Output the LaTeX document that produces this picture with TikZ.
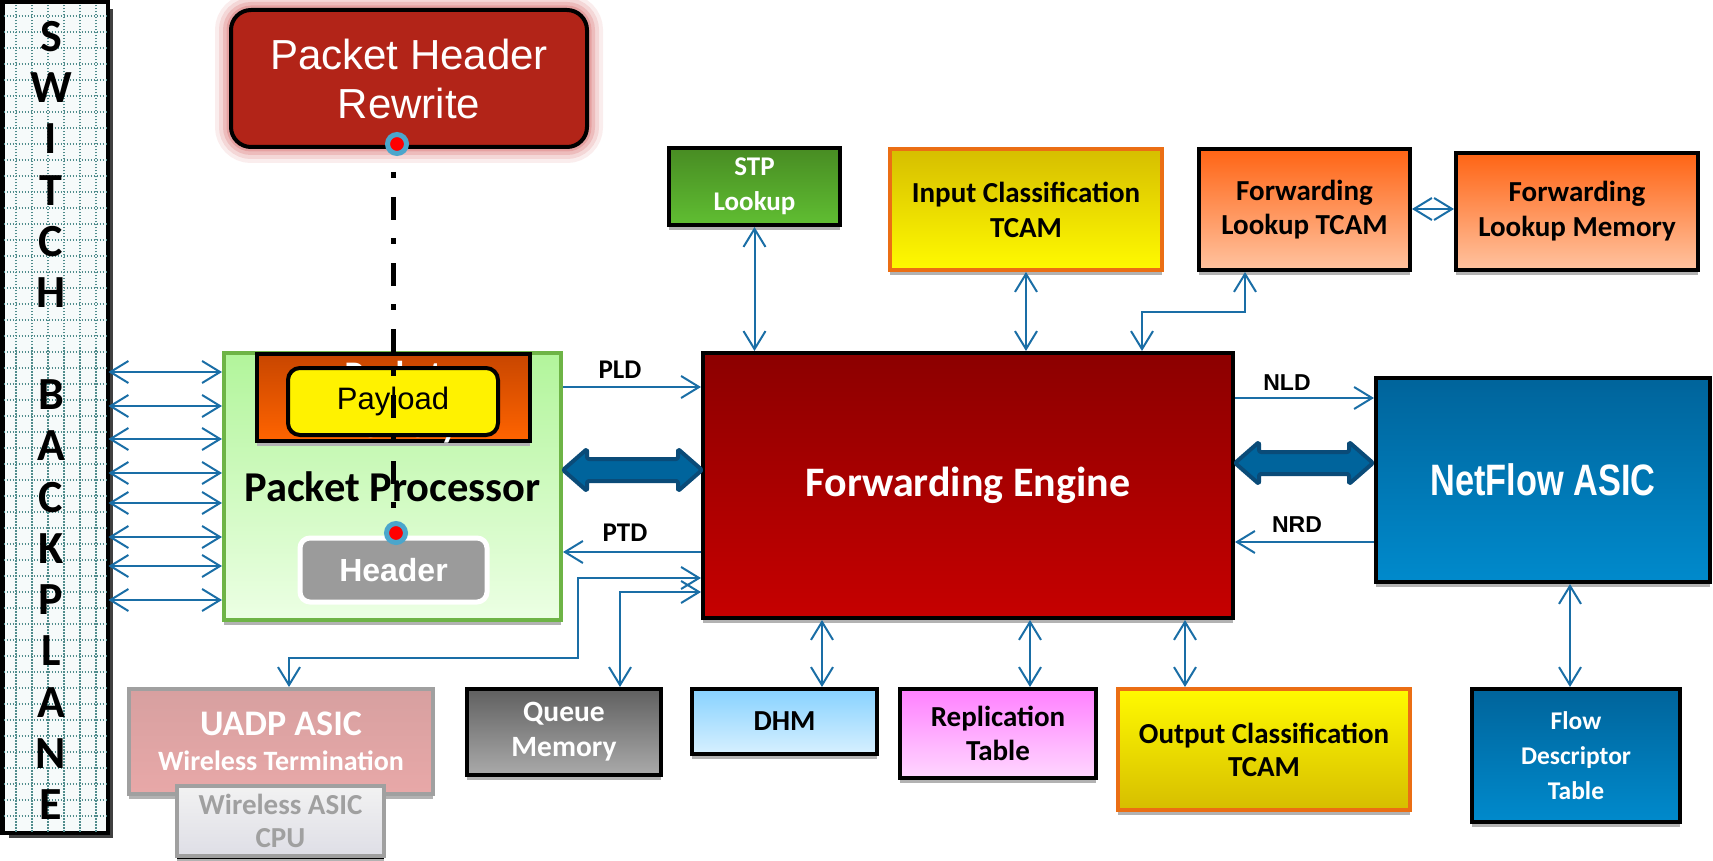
\documentclass[tikz,border=0pt]{standalone}
\usepackage{fontspec}
\setmainfont{Carlito}
\newfontfamily\arialfont{Liberation Sans}
\newfontfamily\narrowfont[FakeStretch=0.78]{Liberation Sans}
\usetikzlibrary{arrows.meta,shadows,calc}

\newcommand\setfs[2]{\fontsize{#1}{#2}\selectfont}

\definecolor{lnk}{RGB}{26,110,166}
\definecolor{feT}{RGB}{140,0,0}
\definecolor{feB}{RGB}{198,0,0}
\definecolor{nfT}{RGB}{0,100,155}
\definecolor{nfB}{RGB}{0,138,204}
\definecolor{stpT}{RGB}{72,140,35}
\definecolor{stpB}{RGB}{96,190,50}
\definecolor{ylD}{RGB}{214,190,0}
\definecolor{ylL}{RGB}{255,250,0}
\definecolor{orBd}{RGB}{235,110,20}
\definecolor{flT}{RGB}{255,100,20}
\definecolor{flB}{RGB}{255,195,160}
\definecolor{qmT}{RGB}{96,96,96}
\definecolor{qmB}{RGB}{170,170,170}
\definecolor{dhT}{RGB}{135,210,255}
\definecolor{dhB}{RGB}{215,240,255}
\definecolor{rtT}{RGB}{255,128,255}
\definecolor{rtB}{RGB}{255,215,255}
\definecolor{uaT}{RGB}{215,160,160}
\definecolor{uaB}{RGB}{232,168,168}
\definecolor{uaBd}{RGB}{160,160,160}
\definecolor{cpT}{RGB}{242,242,242}
\definecolor{cpB}{RGB}{222,222,230}
\definecolor{cpTx}{RGB}{160,160,160}
\definecolor{ppT}{RGB}{178,245,155}
\definecolor{ppB}{RGB}{236,255,228}
\definecolor{ppBd}{RGB}{110,180,70}
\definecolor{pmT}{RGB}{200,70,0}
\definecolor{pmB}{RGB}{255,100,0}
\definecolor{phrC}{RGB}{178,36,24}
\definecolor{glowC}{RGB}{215,110,110}
\definecolor{bpBg}{RGB}{246,250,250}
\definecolor{bpGrid}{RGB}{80,140,140}
\definecolor{ringC}{RGB}{75,166,204}
\definecolor{fatC}{RGB}{0,100,156}
\definecolor{fatBd}{RGB}{10,75,120}
\definecolor{hdrC}{RGB}{155,155,155}

\tikzset{
  vtip/.tip={Straight Barb[length=18pt,width=22pt]},
  link/.style={draw=lnk, line width=2pt},
  box/.style={rectangle, draw=black, line width=4pt, inner sep=0pt, align=center,
    drop shadow={shadow xshift=0pt, shadow yshift=-5pt, fill=black!30, opacity=1}},
  plainbox/.style={rectangle, draw=black, line width=4pt, inner sep=0pt, align=center},
  lbl/.style={font=\setfs{27}{30}\bfseries, inner sep=0pt},
  nlbl/.style={font=\arialfont\setfs{23}{26}\bfseries, inner sep=0pt},
  bpletter/.style={font=\setfs{46}{48}\bfseries, inner sep=0pt},
  dotnode/.style={circle, fill=red, draw=ringC, line width=5pt, minimum size=19pt, inner sep=0pt},
  fatarrow/.style={fill=fatC, draw=fatBd, line width=4pt, line join=round, rounded corners=2pt},
  dashline/.style={line width=5pt, black, dash pattern=on 6pt off 19pt on 23pt off 18pt, dash phase=50pt}
}

\begin{document}
\begin{tikzpicture}[x=1pt,y=-1pt]
\useasboundingbox (0,0) rectangle (1713,861);

% ---- switch backplane ----
\node[draw=black, line width=3pt, fill=bpBg, minimum width=104pt, minimum height=829pt, inner sep=0pt,
  drop shadow={shadow xshift=6pt, shadow yshift=-6pt, fill=black!75, opacity=1}] (bp) at (55,417.5) {};
\draw[bpGrid, line width=1.3pt, dash pattern=on 1.5pt off 1.5pt, step=16pt]
  ($(bp.south west)+(2,-2)$) grid ($(bp.north east)+(-2,2)$);
\draw[line width=3pt] (bp.south west) rectangle (bp.north east);
\foreach \c/\y in {S/37, W/88, I/139, T/191, C/242, H/293, B/395, A/446, C/498, K/549, P/600, L/651, A/703, N/754, E/805}
  \node[bpletter] (bp-\y) at (51,\y) {\c};

% ---- packet header rewrite ----
\foreach \w/\o in {32/0.12, 24/0.18, 16/0.25, 9/0.35}
  \draw[glowC, line width=\w pt, opacity=\o, rounded corners=20pt] (231,10) rectangle (587,147);
\node[plainbox, rounded corners=20pt, fill=phrC, text=white, minimum width=356pt, minimum height=137pt,
  font=\arialfont\setfs{42}{49}] (phr) at (409,78.5) {Packet Header\\Rewrite};

% ---- packet processor ----
\node[box, draw=ppBd, top color=ppT, bottom color=ppB, minimum width=337pt, minimum height=267pt,
  font=\setfs{42.5}{48}\bfseries] (pp) at (392.5,486.5) {Packet Processor};
\node[box, top color=pmT, bottom color=pmB, text=white, minimum width=273pt, minimum height=87pt,
  text depth=0pt] (pm) at (393.5,397.5) {};
\node[text=white, inner sep=0pt, anchor=base, font=\setfs{36}{40}\bfseries] (pmtop) at (393.5,386) {Packet};
\node[text=white, inner sep=0pt, anchor=base, font=\setfs{36}{40}\bfseries] (pmbot) at (393.5,437) {Memory};
\node[plainbox, rounded corners=12pt, fill=yellow, minimum width=210pt, minimum height=67pt,
  font=\arialfont\setfs{31}{36}] (pl) at (393,401.5) {Payload};
\node[rectangle, rounded corners=10pt, fill=hdrC, draw=white, line width=5pt, text=white, inner sep=0pt,
  minimum width=187pt, minimum height=64pt, font=\arialfont\setfs{32}{36}\bfseries] (hd) at (393.5,570) {Header};

\node[dotnode] (d1) at (397,144) {};
\node[dotnode] (d2) at (396,533) {};
\draw[dashline] ($(d1.south)+(-4,0)$) -- ($(d2.north)+(-3,-13)$);

% ---- forwarding engine and netflow ----
\node[box, top color=feT, bottom color=feB, text=white, minimum width=530pt, minimum height=265pt,
  font=\setfs{42}{48}\bfseries] (fe) at (968,485.5) {Forwarding Engine};
\node[box, top color=nfT, bottom color=nfB, text=white, minimum width=334pt, minimum height=204pt,
  font=\narrowfont\setfs{44}{50}\bfseries] (nf) at (1543,480) {NetFlow ASIC};

% ---- upper tables ----
\node[box, top color=stpT, bottom color=stpB, text=white, minimum width=171pt, minimum height=77pt,
  font=\setfs{27}{35}\bfseries] (stp) at (754.5,186.5) {STP\\Lookup};
\node[box, draw=orBd, top color=ylD, bottom color=ylL, minimum width=272pt, minimum height=121pt,
  font=\setfs{29}{35}\bfseries] (ic) at (1026,209.5) {Input Classification\\TCAM};
\node[box, top color=flT, bottom color=flB, minimum width=211pt, minimum height=121pt,
  font=\setfs{29}{34}\bfseries] (flt) at (1304.5,209.5) {Forwarding\\Lookup TCAM};
\node[box, top color=flT, bottom color=flB, minimum width=242pt, minimum height=117pt,
  font=\setfs{29}{35}\bfseries] (flm) at (1577,211.5) {Forwarding\\Lookup Memory};

% ---- lower tables ----
\node[box, top color=qmT, bottom color=qmB, text=white, minimum width=194pt, minimum height=86pt,
  font=\setfs{29.5}{35}\bfseries] (qm) at (564,732) {Queue\\Memory};
\node[box, top color=dhT, bottom color=dhB, minimum width=185pt, minimum height=65pt,
  font=\setfs{29}{35}\bfseries] (dhm) at (784.5,721.5) {DHM};
\node[box, top color=rtT, bottom color=rtB, minimum width=196pt, minimum height=89pt,
  font=\setfs{29}{34}\bfseries] (rt) at (998,733.5) {Replication\\Table};
\node[box, draw=orBd, top color=ylL, bottom color=ylD, minimum width=292pt, minimum height=121pt,
  font=\setfs{29}{33}\bfseries] (oc) at (1264,749.5) {Output Classification\\TCAM};
\node[box, top color=nfT, bottom color=nfB, text=white, minimum width=208pt, minimum height=133pt,
  font=\setfs{25.5}{35}\bfseries] (fdt) at (1576,755.5) {Flow\\Descriptor\\Table};

\node[box, draw=uaBd, top color=uaT, bottom color=uaB, text=white, minimum width=304pt, minimum height=105pt,
  font=\bfseries] (uadp) at (281,741.5) {\setfs{36}{40}UADP ASIC\\[14pt]\setfs{28}{32}Wireless Termination};
\node[box, draw=uaBd, top color=cpT, bottom color=cpB, text=cpTx, minimum width=207pt, minimum height=70pt,
  drop shadow={shadow xshift=0pt, shadow yshift=-3pt, fill=black, opacity=1},
  font=\setfs{29}{33}\bfseries] (cpu) at (280.5,821) {Wireless ASIC\\CPU};

% ---- backplane links ----
\foreach \y in {372,406,439,473,503,537,566,600}
  \draw[link, vtip-vtip] (bp.east |- 0,\y) -- (pp.west |- 0,\y);

% ---- packet processor <-> forwarding engine ----
\draw[link, -vtip] (pp.east |- 0,387) -- (fe.west |- 0,387);
\node[lbl] (pld) at (620,370) {PLD};
\draw[link, -vtip] (fe.west |- 0,552) -- (pp.east |- 0,552);
\node[lbl] (ptd) at (625,533) {PTD};
\draw[fatarrow] (563,470) -- (587,449) -- (587,459) -- (678,459) -- (678,449) -- (702,470)
  -- (678,491) -- (678,481) -- (587,481) -- (587,491) -- cycle;

% ---- forwarding engine <-> netflow ----
\draw[link, -vtip] (fe.east |- 0,398) -- (nf.west |- 0,398);
\node[nlbl] (nld) at (1287,383) {NLD};
\draw[link, -vtip] (nf.west |- 0,542) -- (fe.east |- 0,542);
\node[nlbl] (nrd) at (1297,525) {NRD};
\draw[fatarrow] (1235,463) -- (1259,442) -- (1259,452) -- (1349,452) -- (1349,442) -- (1373,463)
  -- (1349,484) -- (1349,474) -- (1259,474) -- (1259,484) -- cycle;

% ---- upper links ----
\draw[link, vtip-vtip] (stp.south) -- (stp.south |- fe.north);
\draw[link, vtip-vtip] (ic.south) -- (ic.south |- fe.north);
\coordinate (f1) at (1142,312);
\coordinate (f2) at (1245,312);
\draw[link, vtip-vtip] (f1 |- fe.north) -- (f1) -- (f2) -- (f2 |- flt.south);
\draw[link, vtip-vtip] (flt.east |- 0,209) -- (flm.west |- 0,209);

% ---- lower links ----
\draw[link, vtip-vtip] (fe.south -| 822,0) -- (dhm.north -| 822,0);
\draw[link, vtip-vtip] (fe.south -| 1030,0) -- (rt.north -| 1030,0);
\draw[link, vtip-vtip] (fe.south -| 1185,0) -- (oc.north -| 1185,0);
\draw[link, vtip-vtip] (nf.south -| 1570,0) -- (fdt.north -| 1570,0);
\coordinate (a1) at (578,578);
\coordinate (a2) at (578,658);
\coordinate (a3) at (289,658);
\draw[link, vtip-vtip] (fe.west |- a1) -- (a1) -- (a2) -- (a3) -- (a3 |- uadp.north);
\coordinate (b1) at (620,592);
\draw[link, vtip-vtip] (fe.west |- b1) -- (b1) -- (b1 |- qm.north);

\end{tikzpicture}
\end{document}
